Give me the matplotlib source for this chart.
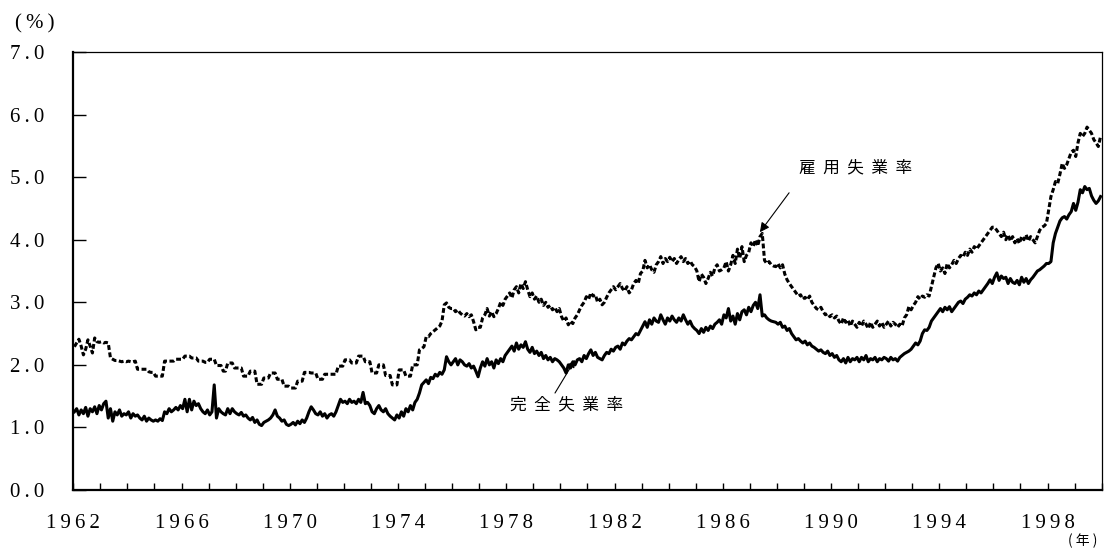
import numpy as np
import matplotlib
matplotlib.use("Agg")
import matplotlib.pyplot as plt

plt.rcParams['lines.scale_dashes'] = False
plt.rcParams['font.family'] = ['Liberation Serif', 'DejaVu Serif']

START_YEAR = 1962
END_YEAR = 2000

# 完全失業率 (monthly, %), Jan 1962 - Dec 1999
kanzen = [
    1.25, 1.30, 1.20, 1.28, 1.22, 1.32, 1.18, 1.30, 1.25, 1.33, 1.22, 1.35,  # 1962
    1.28, 1.38, 1.42, 1.15, 1.30, 1.10, 1.25, 1.20, 1.28, 1.18, 1.22, 1.20,  # 1963
    1.25, 1.15, 1.22, 1.18, 1.20, 1.15, 1.12, 1.18, 1.10, 1.15, 1.12, 1.10,  # 1964
    1.12, 1.10, 1.14, 1.11, 1.25, 1.22, 1.30, 1.25, 1.28, 1.32, 1.28, 1.35,  # 1965
    1.30, 1.45, 1.25, 1.45, 1.28, 1.42, 1.35, 1.38, 1.30, 1.25, 1.22, 1.28,  # 1966
    1.20, 1.25, 1.68, 1.15, 1.30, 1.25, 1.22, 1.20, 1.30, 1.22, 1.30, 1.25,  # 1967
    1.22, 1.20, 1.24, 1.18, 1.20, 1.15, 1.12, 1.16, 1.08, 1.12, 1.05, 1.03,  # 1968
    1.08, 1.10, 1.12, 1.15, 1.20, 1.28, 1.18, 1.15, 1.10, 1.12, 1.05, 1.03,  # 1969
    1.05, 1.08, 1.04, 1.10, 1.06, 1.12, 1.08, 1.15, 1.25, 1.33, 1.28, 1.22,  # 1970
    1.20, 1.25, 1.18, 1.22, 1.15, 1.20, 1.22, 1.18, 1.25, 1.35, 1.45, 1.40,  # 1971
    1.42, 1.38, 1.45, 1.40, 1.42, 1.38, 1.45, 1.40, 1.56, 1.38, 1.40, 1.35,  # 1972
    1.25, 1.22, 1.30, 1.35, 1.28, 1.25, 1.30, 1.22, 1.18, 1.15, 1.12, 1.20,  # 1973
    1.15, 1.25, 1.18, 1.30, 1.25, 1.35, 1.28, 1.40, 1.45, 1.55, 1.68, 1.72,  # 1974
    1.76, 1.70, 1.80, 1.78, 1.85, 1.82, 1.88, 1.85, 1.92, 2.13, 2.05, 2.00,  # 1975
    2.05, 2.10, 2.00, 2.08, 2.05, 2.00, 1.98, 2.02, 1.95, 1.98, 1.90, 1.81,  # 1976
    1.95, 2.05, 1.98, 2.10, 2.00, 2.05, 1.95, 2.08, 2.02, 2.10, 2.05, 2.15,  # 1977
    2.20, 2.25, 2.30, 2.22, 2.35, 2.25, 2.32, 2.28, 2.37, 2.25, 2.20, 2.28,  # 1978
    2.18, 2.22, 2.15, 2.20, 2.10, 2.15, 2.08, 2.12, 2.05, 2.10, 2.08, 2.05,  # 1979
    2.00, 1.95, 1.87, 2.00, 1.95, 2.05, 2.00, 2.08, 2.10, 2.05, 2.15, 2.10,  # 1980
    2.18, 2.24, 2.15, 2.20, 2.12, 2.10, 2.08, 2.15, 2.20, 2.18, 2.25, 2.22,  # 1981
    2.28, 2.30, 2.25, 2.35, 2.32, 2.38, 2.42, 2.40, 2.45, 2.50, 2.48, 2.55,  # 1982
    2.62, 2.69, 2.60, 2.72, 2.65, 2.75, 2.70, 2.68, 2.80, 2.72, 2.65, 2.75,  # 1983
    2.70, 2.78, 2.72, 2.68, 2.75, 2.70, 2.80, 2.72, 2.65, 2.70, 2.62, 2.58,  # 1984
    2.55, 2.50, 2.58, 2.52, 2.60, 2.55, 2.62, 2.58, 2.65, 2.68, 2.72, 2.65,  # 1985
    2.80, 2.75, 2.90, 2.70, 2.78, 2.65, 2.82, 2.72, 2.85, 2.88, 2.80, 2.92,  # 1986
    2.85, 2.95, 3.00, 2.90, 3.12, 2.78, 2.80, 2.75, 2.72, 2.70, 2.69, 2.68,  # 1987
    2.65, 2.68, 2.60, 2.62, 2.55, 2.58, 2.50, 2.45, 2.40, 2.42, 2.38, 2.35,  # 1988
    2.38, 2.32, 2.35, 2.30, 2.28, 2.25, 2.22, 2.24, 2.20, 2.18, 2.22, 2.15,  # 1989
    2.18, 2.12, 2.15, 2.08, 2.05, 2.10, 2.03, 2.12, 2.05, 2.10, 2.08, 2.12,  # 1990
    2.05, 2.12, 2.08, 2.15, 2.05, 2.10, 2.08, 2.12, 2.05, 2.10, 2.08, 2.12,  # 1991
    2.10, 2.06, 2.12, 2.08, 2.10, 2.06, 2.12, 2.15, 2.18, 2.20, 2.22, 2.25,  # 1992
    2.30, 2.35, 2.32, 2.38, 2.50, 2.56, 2.55, 2.60, 2.70, 2.75, 2.80, 2.85,  # 1993
    2.90, 2.85, 2.92, 2.88, 2.93, 2.85, 2.90, 2.95, 3.00, 3.02, 2.98, 3.05,  # 1994
    3.08, 3.12, 3.10, 3.15, 3.12, 3.18, 3.15, 3.20, 3.25, 3.30, 3.36, 3.30,  # 1995
    3.40, 3.47, 3.35, 3.42, 3.38, 3.40, 3.30, 3.38, 3.32, 3.30, 3.35, 3.28,  # 1996
    3.40, 3.32, 3.38, 3.30, 3.36, 3.40, 3.45, 3.50, 3.52, 3.55, 3.58, 3.62,  # 1997
    3.62, 3.65, 3.95, 4.10, 4.20, 4.30, 4.35, 4.37, 4.33, 4.40, 4.45, 4.58,  # 1998
    4.47, 4.60, 4.80, 4.75, 4.85, 4.80, 4.82, 4.70, 4.63, 4.58, 4.62, 4.69,  # 1999
]

# 雇用失業率 (monthly, %), Jan 1962 - Dec 1999
koyo = [
    2.29, 2.35, 2.41, 2.30, 2.16, 2.25, 2.40, 2.30, 2.19, 2.43, 2.37, 2.36,  # 1962
    2.37, 2.35, 2.36, 2.35, 2.11, 2.09, 2.07, 2.07, 2.06, 2.05, 2.06, 2.05,  # 1963
    2.06, 2.05, 2.05, 2.06, 1.93, 1.93, 1.93, 1.93, 1.93, 1.89, 1.88, 1.88,  # 1964
    1.82, 1.82, 1.82, 1.82, 2.06, 2.06, 2.06, 2.06, 2.06, 2.09, 2.09, 2.09,  # 1965
    2.09, 2.14, 2.14, 2.14, 2.11, 2.11, 2.11, 2.06, 2.06, 2.06, 2.04, 2.04,  # 1966
    2.09, 2.09, 2.09, 1.99, 1.99, 1.99, 1.90, 1.90, 2.03, 2.03, 2.03, 1.95,  # 1967
    1.95, 1.95, 1.95, 1.82, 1.82, 1.82, 1.90, 1.90, 1.90, 1.69, 1.69, 1.69,  # 1968
    1.79, 1.79, 1.79, 1.87, 1.87, 1.87, 1.77, 1.77, 1.77, 1.66, 1.66, 1.66,  # 1969
    1.63, 1.63, 1.63, 1.74, 1.74, 1.74, 1.88, 1.88, 1.88, 1.87, 1.87, 1.87,  # 1970
    1.77, 1.77, 1.77, 1.85, 1.85, 1.85, 1.85, 1.85, 1.85, 1.98, 1.98, 1.98,  # 1971
    2.08, 2.08, 2.08, 2.03, 2.03, 2.03, 2.14, 2.14, 2.14, 2.05, 2.05, 2.05,  # 1972
    1.87, 1.87, 1.87, 2.00, 2.00, 2.00, 1.83, 1.83, 1.83, 1.68, 1.68, 1.68,  # 1973
    1.92, 1.92, 1.92, 1.82, 1.82, 1.82, 2.00, 2.00, 2.00, 2.24, 2.26, 2.29,  # 1974
    2.45, 2.45, 2.50, 2.53, 2.56, 2.59, 2.62, 2.70, 2.96, 2.99, 2.92, 2.90,  # 1975
    2.90, 2.85, 2.88, 2.83, 2.80, 2.78, 2.82, 2.77, 2.80, 2.69, 2.56, 2.60,  # 1976
    2.60, 2.75, 2.80, 2.90, 2.78, 2.85, 2.77, 2.82, 2.90, 3.00, 2.95, 3.05,  # 1977
    3.10, 3.15, 3.07, 3.20, 3.25, 3.15, 3.30, 3.22, 3.33, 3.20, 3.09, 3.15,  # 1978
    3.05, 3.10, 3.00, 3.05, 2.95, 3.00, 2.92, 2.95, 2.88, 2.92, 2.85, 2.90,  # 1979
    2.77, 2.70, 2.75, 2.64, 2.70, 2.66, 2.75, 2.80, 2.88, 2.95, 3.00, 3.09,  # 1980
    3.05, 3.15, 3.10, 3.12, 3.00, 3.05, 2.96, 3.00, 3.08, 3.15, 3.20, 3.25,  # 1981
    3.20, 3.25, 3.30, 3.22, 3.18, 3.25, 3.15, 3.20, 3.30, 3.35, 3.30, 3.46,  # 1982
    3.50, 3.67, 3.55, 3.60, 3.52, 3.48, 3.60, 3.65, 3.73, 3.62, 3.70, 3.65,  # 1983
    3.72, 3.65, 3.70, 3.62, 3.68, 3.73, 3.65, 3.70, 3.62, 3.66, 3.60, 3.57,  # 1984
    3.50, 3.33, 3.45, 3.40, 3.30, 3.38, 3.48, 3.42, 3.55, 3.60, 3.50, 3.52,  # 1985
    3.55, 3.65, 3.50, 3.60, 3.75, 3.62, 3.85, 3.70, 3.89, 3.65, 3.75, 3.80,  # 1986
    3.95, 3.89, 4.00, 3.90, 4.05, 4.10, 3.67, 3.62, 3.65, 3.60, 3.58, 3.57,  # 1987
    3.62, 3.55, 3.60, 3.45, 3.36, 3.30, 3.25, 3.20, 3.15, 3.10, 3.12, 3.05,  # 1988
    3.08, 3.04, 3.10, 3.00, 2.95, 2.90, 2.88, 2.92, 2.85, 2.80, 2.82, 2.77,  # 1989
    2.80, 2.75, 2.78, 2.70, 2.65, 2.75, 2.68, 2.72, 2.62, 2.70, 2.65, 2.60,  # 1990
    2.68, 2.62, 2.70, 2.65, 2.58, 2.68, 2.60, 2.65, 2.70, 2.62, 2.68, 2.60,  # 1991
    2.65, 2.70, 2.62, 2.68, 2.65, 2.60, 2.65, 2.62, 2.75, 2.80, 2.93, 2.88,  # 1992
    2.95, 3.00, 3.09, 3.05, 3.10, 3.08, 3.12, 3.10, 3.25, 3.40, 3.55, 3.62,  # 1993
    3.50, 3.55, 3.46, 3.62, 3.55, 3.60, 3.67, 3.62, 3.70, 3.75, 3.72, 3.80,  # 1994
    3.75, 3.85, 3.80, 3.89, 3.85, 3.90, 3.95, 4.00, 4.05, 4.10, 4.15, 4.20,  # 1995
    4.20, 4.15, 4.10, 4.05, 4.12, 4.00, 4.08, 3.98, 4.05, 3.95, 4.02, 3.94,  # 1996
    4.05, 4.00, 4.08, 3.98, 4.05, 4.00, 3.95, 4.05, 4.15, 4.20, 4.22, 4.26,  # 1997
    4.47, 4.69, 4.80, 4.93, 4.90, 5.05, 5.22, 5.14, 5.20, 5.30, 5.40, 5.43,  # 1998
    5.33, 5.55, 5.70, 5.65, 5.70, 5.80, 5.75, 5.70, 5.60, 5.55, 5.49, 5.65,  # 1999
]

year_ticks = list(range(START_YEAR, END_YEAR + 1))
labelled_years = list(range(1962, 1999, 4))
y_ticks = [0, 1, 2, 3, 4, 5, 6, 7]

SERIF = ['Liberation Serif', 'DejaVu Serif']
CJK = ['Noto Sans CJK JP', 'DejaVu Sans']
THIN = '\u2009'


def spaced(s):
    return THIN.join(s)


# months placed at mid-month positions on a year axis
t = START_YEAR + (np.arange(len(kanzen)) + 0.5) / 12.0

fig = plt.figure(figsize=(11.05, 5.48), dpi=100)
ax = fig.add_axes([0.0663, 0.1058, 0.9307, 0.7993])

ax.plot(t, koyo, color='black', linewidth=2.2, linestyle=(0, (3.5, 1.8)))
ax.plot(t, kanzen, color='black', linewidth=2.2)

ax.set_xlim(START_YEAR, END_YEAR)
ax.set_ylim(0, 7)

ax.set_xticks(year_ticks)
ax.set_xticklabels([spaced(str(y)) if y in labelled_years else '' for y in year_ticks],
                   family=SERIF, fontsize=15)
ax.set_yticks(y_ticks)
ax.set_yticklabels([spaced(f'{v:.1f}') for v in y_ticks], family=SERIF, fontsize=15)

ax.tick_params(axis='x', direction='in', length=5, width=1, pad=17)
ax.tick_params(axis='y', direction='in', length=9, width=1, pad=21)

for side in ['left', 'bottom']:
    ax.spines[side].set_linewidth(1.6)
for side in ['top', 'right']:
    ax.spines[side].set_linewidth(0.9)

# unit labels
fig.text(35 / 1105, 1 - 24 / 548, '(\u2009%\u2009)', family=SERIF, fontsize=15,
         ha='center', va='center')
fig.text(1083 / 1105, 1 - 541 / 548, '( 年 )', family=CJK, fontsize=10,
         ha='center', va='center')

# series labels with arrows
ax.text(1990.9, 5.15, '雇  用  失  業  率', family=CJK, fontsize=12,
        ha='center', va='center')
ax.annotate('', xy=(1987.37, 4.12), xytext=(1988.45, 4.75),
            arrowprops=dict(arrowstyle='-|>', color='black', lw=0.8,
                            mutation_scale=14, shrinkA=0, shrinkB=0))

ax.text(1980.24, 1.36, '完  全  失  業  率', family=CJK, fontsize=12,
        ha='center', va='center')
ax.annotate('', xy=(1980.54, 2.08), xytext=(1979.80, 1.55),
            arrowprops=dict(arrowstyle='-|>', color='black', lw=0.8,
                            mutation_scale=11, shrinkA=0, shrinkB=0))

fig.savefig('out.png', dpi=100)
